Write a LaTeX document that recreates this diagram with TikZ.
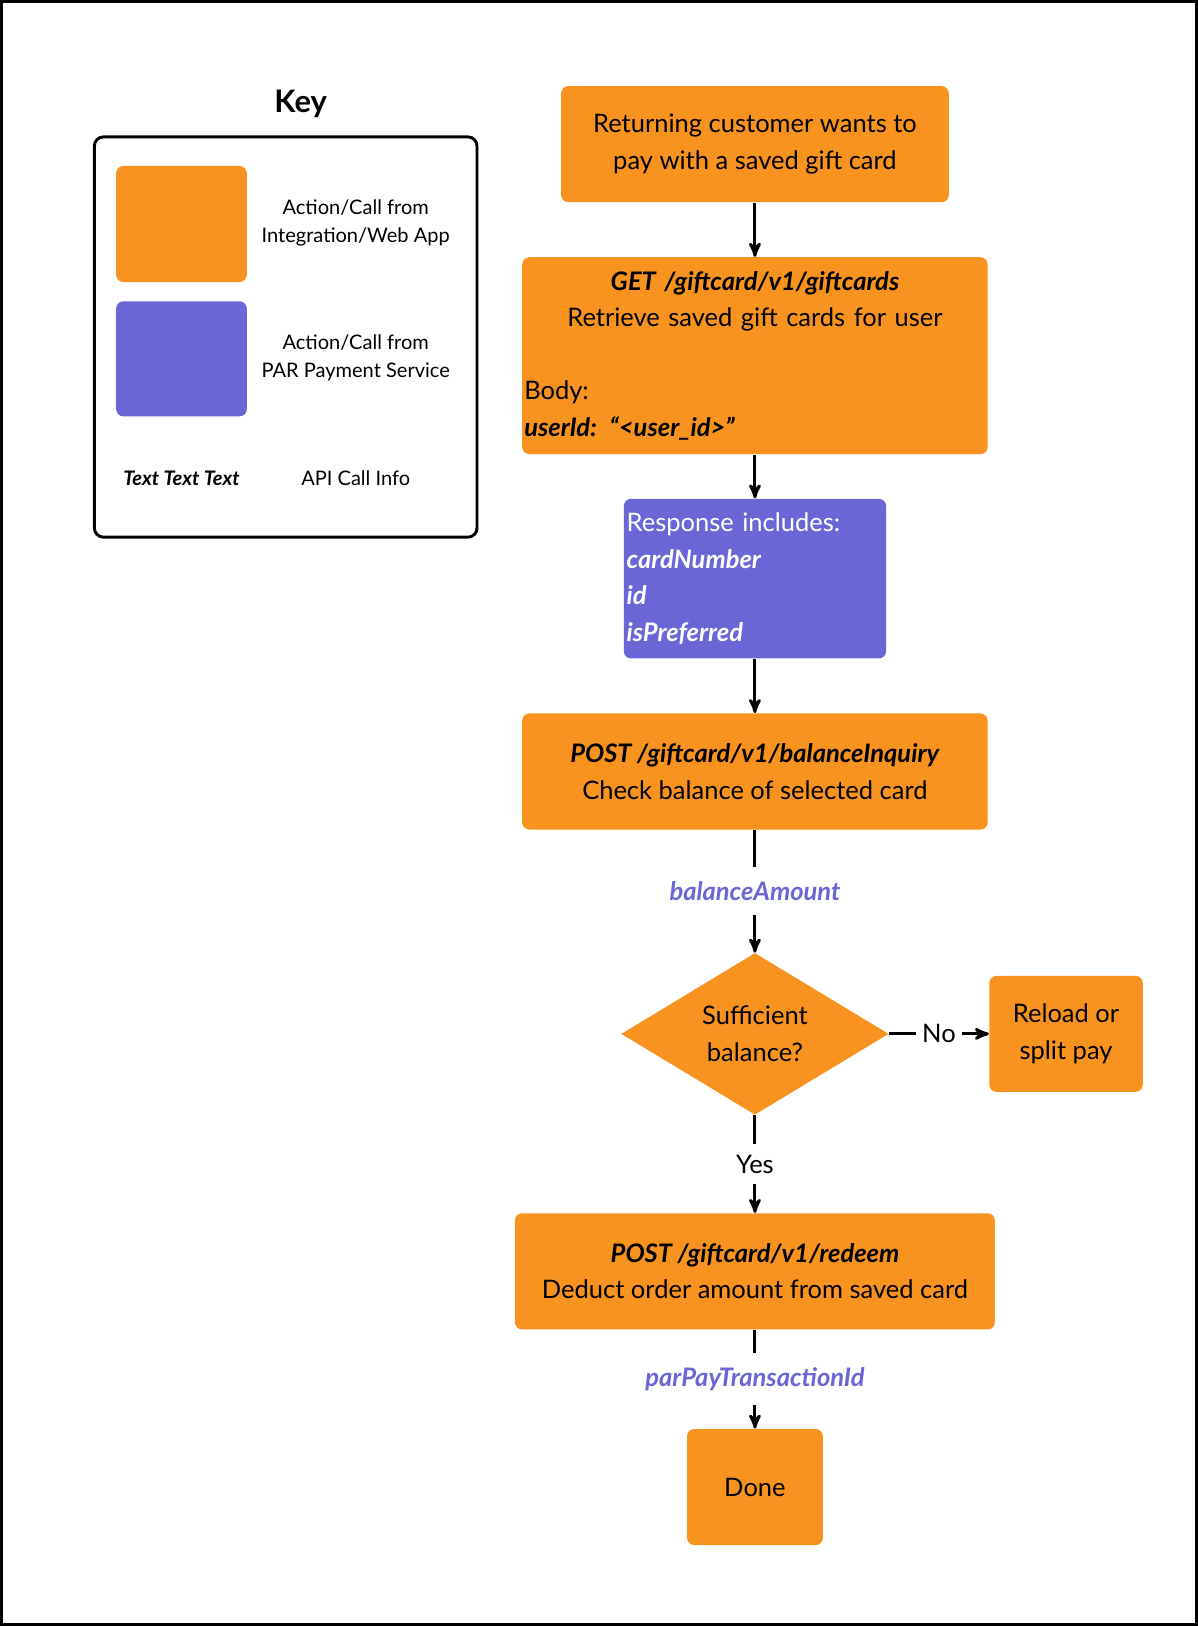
\documentclass[tikz,border=0pt]{standalone}
\usepackage{fontspec}
\setmainfont{Lato}
\usepackage{tikz}
\usetikzlibrary{arrows,shapes.geometric,positioning}

\definecolor{actorange}{HTML}{F7931E}
\definecolor{actpurple}{HTML}{6B66D6}

\tikzset{
  action/.style={rectangle, rounded corners=4pt, fill=actorange, inner sep=0pt, align=center,
    font=\fontsize{14}{20}\selectfont},
  svc/.style={rectangle, rounded corners=4pt, fill=actpurple, inner sep=0pt, text=white,
    font=\fontsize{14}{20}\selectfont},
  info/.style={fill=white, text=actpurple, font=\fontsize{14}{20}\selectfont\bfseries\itshape},
  plain/.style={fill=white, font=\fontsize{14}{20}\selectfont},
  keytext/.style={align=center, font=\fontsize{11}{15}\selectfont},
  flow/.style={->, >=stealth', line width=1.6pt}
}

\begin{document}
\begin{tikzpicture}[x=0.02cm, y=-0.02cm]

\useasboundingbox (0,0) rectangle (1155,1568);
\draw[line width=1.5pt] (1.5,1.5) rectangle (1153.5,1566.5);

% key
\node[font=\fontsize{17}{20}\selectfont\bfseries] (keytitle) at (290,100) {Key};
\draw[line width=1.6pt, rounded corners=5pt] (91,132) rectangle (460,518);
\node[action, minimum width=2.52cm, minimum height=2.24cm] (keyorange) at (175,216) {};
\node[keytext] (keyorangetxt) at (343,215) {Action/Call from\\Integration/Web App};
\node[svc, minimum width=2.52cm, minimum height=2.22cm] (keypurple) at (175,346) {};
\node[keytext] (keypurpletxt) at (343,345) {Action/Call from\\PAR Payment Service};
\node[keytext, font=\fontsize{11}{15}\selectfont\bfseries\itshape] (keyapi) at (175,461) {Text Text Text};
\node[keytext] (keyapitxt) at (343,461) {API Call Info};

% flow
\node[action, minimum width=7.48cm, minimum height=2.24cm] (start) at (728,139)
  {Returning customer wants to\\pay with a saved gift card};
\node[action, minimum width=8.98cm, minimum height=3.8cm, text width=8.9cm, align=left] (getcards) at (728,343)
  {\centering\textbf{\textit{GET /giftcard/v1/giftcards}}\\Retrieve saved gift cards for user\par
   \vspace{0.7cm}\raggedright Body:\\\textbf{\textit{userId: “<user\_id>”}}\par};
\node[svc, minimum width=5.06cm, minimum height=3.08cm, text width=4.95cm, align=left] (response) at (728,558)
  {Response includes:\\\textbf{\textit{cardNumber}}\\\textbf{\textit{id}}\\\textbf{\textit{isPreferred}}};
\node[action, minimum width=8.98cm, minimum height=2.24cm] (balance) at (728,744)
  {\textbf{\textit{POST /giftcard/v1/balanceInquiry}}\\Check balance of selected card};
\node[diamond, fill=actorange, inner sep=0pt, minimum width=5.16cm, minimum height=3.12cm, align=center,
  font=\fontsize{14}{20}\selectfont] (enough) at (728,997) {Sufficient\\balance?};
\node[action, minimum width=2.96cm, minimum height=2.24cm] (reload) at (1028,997) {Reload or\\split pay};
\node[action, minimum width=9.26cm, minimum height=2.24cm] (redeem) at (728,1226)
  {\textbf{\textit{POST /giftcard/v1/redeem}}\\Deduct order amount from saved card};
\node[action, minimum width=2.62cm, minimum height=2.24cm] (done) at (728,1434) {Done};

\draw[flow] (start) -- (getcards);
\draw[flow] (getcards) -- (response);
\draw[flow] (response) -- (balance);
\draw[flow] (balance) -- node[info, inner sep=8pt] {balanceAmount} (enough);
\draw[flow] (enough) -- node[plain] {No} (reload);
\draw[flow] (enough) -- node[plain, inner sep=6pt] {Yes} (redeem);
\draw[flow] (redeem) -- node[info, inner sep=8pt] {parPayTransactionId} (done);

\end{tikzpicture}
\end{document}
